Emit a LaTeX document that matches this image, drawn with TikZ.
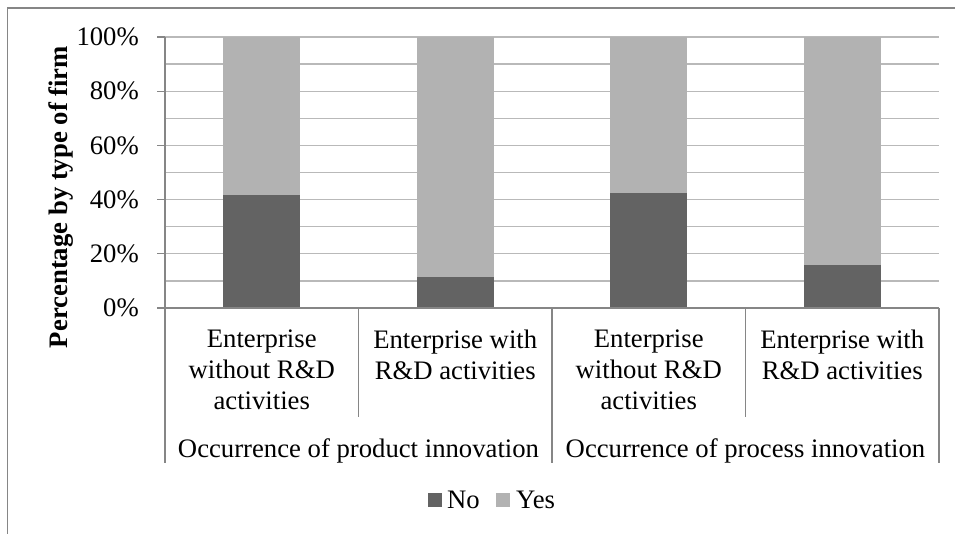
\documentclass[tikz,border=0pt]{standalone}
\usepackage{fontspec}
\setmainfont{Liberation Serif}
\definecolor{nocol}{HTML}{636363}
\definecolor{yescol}{HTML}{B2B2B2}
\definecolor{gridcol}{HTML}{B9B9B9}
\definecolor{axiscol}{HTML}{868686}
\begin{document}
\begin{tikzpicture}[x=1pt,y=-1pt,
  lbl/.style={font=\fontsize{26.7}{31}\selectfont,inner sep=0},
  axisline/.style={axiscol,line width=1.3pt},
  gridline/.style={gridcol,line width=1.3pt}]
 \useasboundingbox (0,0) rectangle (955,534);
 \draw[axisline](7.5,534)--(7.5,8)--(955,8);
 \draw[gridline](165,280.9)--(939,280.9);
 \draw[gridline](165,253.8)--(939,253.8);
 \draw[gridline](165,226.7)--(939,226.7);
 \draw[gridline](165,199.6)--(939,199.6);
 \draw[gridline](165,172.5)--(939,172.5);
 \draw[gridline](165,145.4)--(939,145.4);
 \draw[gridline](165,118.3)--(939,118.3);
 \draw[gridline](165,91.2)--(939,91.2);
 \draw[gridline](165,64.1)--(939,64.1);
 \draw[gridline](165,37)--(939,37);
 \fill[nocol](223.25,308)rectangle(300.25,195);
 \fill[yescol](223.25,195)rectangle(300.25,37);
 \fill[nocol](416.75,308)rectangle(493.75,277.1);
 \fill[yescol](416.75,277.1)rectangle(493.75,37);
 \fill[nocol](610.25,308)rectangle(687.25,193.1);
 \fill[yescol](610.25,193.1)rectangle(687.25,37);
 \fill[nocol](803.75,308)rectangle(880.75,264.9);
 \fill[yescol](803.75,264.9)rectangle(880.75,37);
 \draw[axisline](165,37)--(165,463);
 \draw[axisline](157,308)--(939,308);
 \draw[axisline](358.5,308)--(358.5,417);
 \draw[axisline](552,308)--(552,463);
 \draw[axisline](745.5,308)--(745.5,417);
 \draw[axisline](939,308)--(939,463);
 \draw[axisline](157,253.8)--(165,253.8);
 \draw[axisline](157,199.6)--(165,199.6);
 \draw[axisline](157,145.4)--(165,145.4);
 \draw[axisline](157,91.2)--(165,91.2);
 \draw[axisline](157,37)--(165,37);
 \node[lbl,anchor=east](t0) at (139,308){0\%};
 \node[lbl,anchor=east](t20) at (139,253.8){20\%};
 \node[lbl,anchor=east](t40) at (139,199.6){40\%};
 \node[lbl,anchor=east](t60) at (139,145.4){60\%};
 \node[lbl,anchor=east](t80) at (139,91.2){80\%};
 \node[lbl,anchor=east](t100) at (139,37){100\%};
 \node[lbl,font=\fontsize{26.7}{31}\selectfont\bfseries,rotate=90,anchor=base](ytitle) at (67,197){Percentage by type of firm};
 \node[lbl,align=center,anchor=north](c1) at (261.75,330){Enterprise\\without R\&D\\activities};
 \node[lbl,align=center,anchor=north](c2) at (455.25,330){Enterprise with\\R\&D activities};
 \node[lbl,align=center,anchor=north](c3) at (648.75,330){Enterprise\\without R\&D\\activities};
 \node[lbl,align=center,anchor=north](c4) at (842.25,330){Enterprise with\\R\&D activities};
 \node[lbl,anchor=base](g1) at (358.5,457){Occurrence of product innovation};
 \node[lbl,anchor=base](g2) at (745.5,457){Occurrence of process innovation};
 \fill[nocol](428,493)rectangle(442,507);
 \node[lbl,anchor=base west](lno) at (447,508){No};
 \fill[yescol](496,493)rectangle(510,507);
 \node[lbl,anchor=base west](lyes) at (516,508){Yes};
\end{tikzpicture}
\end{document}
